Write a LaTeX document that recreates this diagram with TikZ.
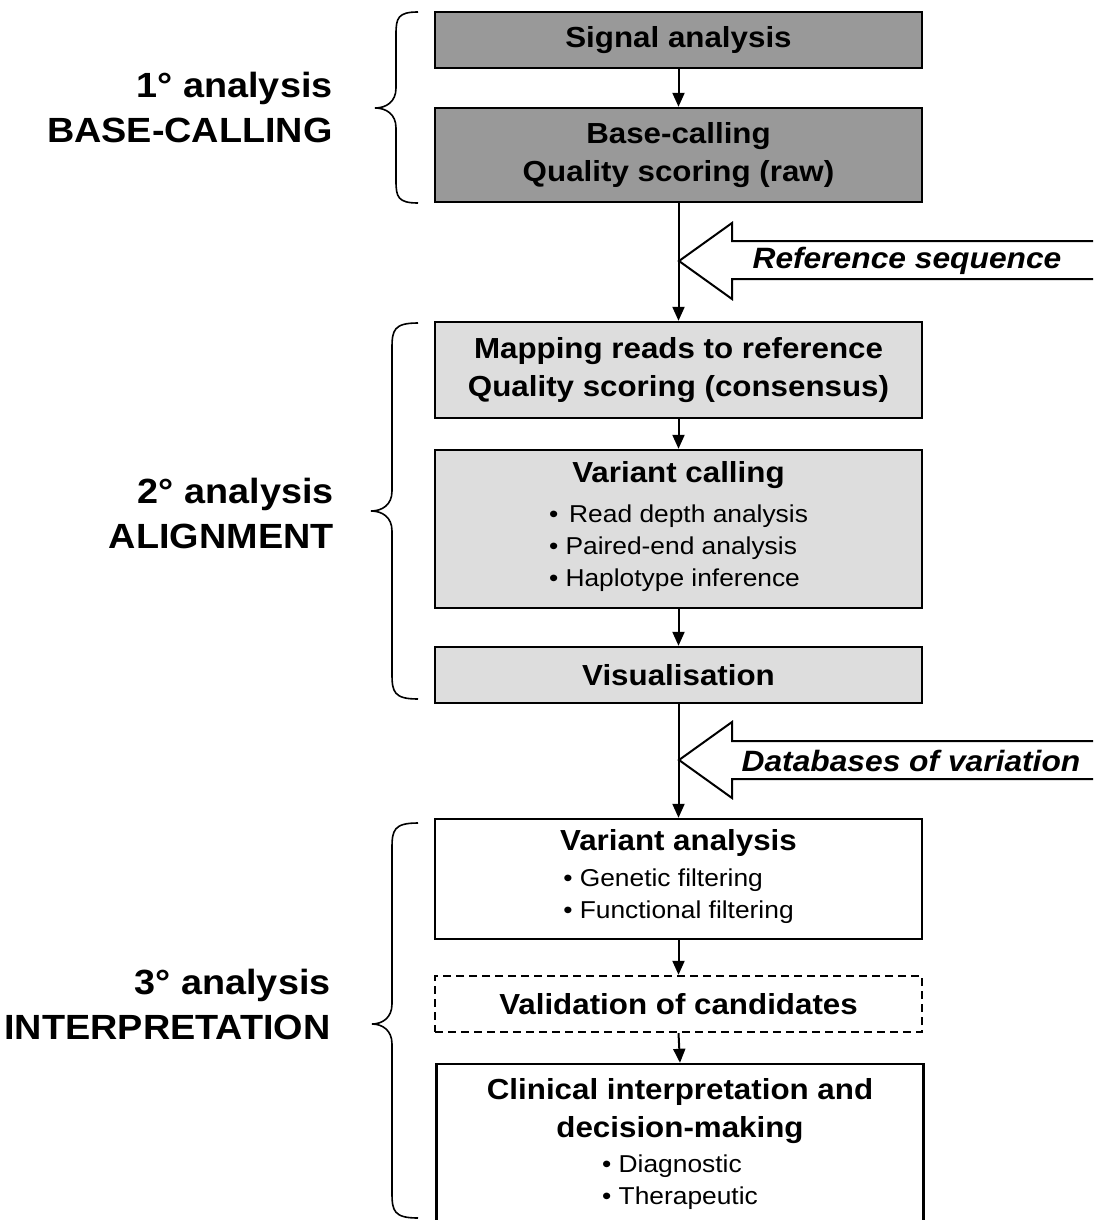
\documentclass[tikz,border=0pt]{standalone}
\usepackage{fontspec}
\setmainfont{Liberation Sans}[FakeStretch=1.08]
\usetikzlibrary{arrows.meta}
\definecolor{darkbox}{HTML}{999999}
\definecolor{lightbox}{HTML}{DDDDDD}
\newcommand\ttlfont{\fontsize{14.5}{19}\selectfont\bfseries}
\newcommand\bulfont{\fontsize{12.2}{16}\selectfont\mdseries}
\begin{document}
\begin{tikzpicture}[x=0.5pt,y=-0.5pt,
  box/.style={draw=black, line width=1.2pt, minimum width=243.5pt, inner sep=0pt, align=center, font=\ttlfont},
  dark/.style={box, fill=darkbox},
  light/.style={box, fill=lightbox},
  plain/.style={box, fill=white},
  dashbox/.style={box, fill=white, dash pattern=on 4pt off 2.5pt},
  arr/.style={line width=1pt, -{Triangle[length=7pt,width=6pt]}},
  hollow/.style={line width=1pt, fill=white},
  brc/.style={line width=0.8pt},
  lbl/.style={font=\fontsize{17.5}{22.5}\selectfont\bfseries, align=right, anchor=east, inner sep=0pt},
  reftext/.style={font=\fontsize{14.7}{18}\selectfont\bfseries\itshape, inner sep=0pt}]
\clip (0,0) rectangle (1093,1220);
\fill[white] (0,0) rectangle (1093,1220);

% hollow input arrows
\draw[hollow] (1110,241) -- (732,241) -- (732,223) -- (679,261) -- (732,299) -- (732,279) -- (1110,279);
\node[reftext] (refseq) at (907,261) {Reference sequence};
\draw[hollow] (1110,741) -- (732,741) -- (732,722) -- (679,760) -- (732,798) -- (732,779) -- (1110,779);
\node[reftext] (dbvar) at (911,761) {Databases of variation};

% boxes
\node[dark, minimum height=28pt] (b1) at (678.5,40) {Signal analysis};
\node[dark, minimum height=47pt] (b2) at (678.5,155) {Base-calling\\Quality scoring (raw)};
\node[light, minimum height=48pt] (b3) at (678.5,370) {Mapping reads to reference\\Quality scoring (consensus)};
\node[light, minimum height=79pt] (b4) at (678.5,529) {Variant calling\\[1pt]{\bulfont\begin{tabular}[t]{@{}l@{}}•\hspace{0.45em}Read depth analysis\\• Paired-end analysis\\• Haplotype inference\end{tabular}}};
\node[light, minimum height=28pt] (b5) at (678.5,675) {Visualisation};
\node[plain, minimum height=60pt] (b6) at (678.5,879) {Variant analysis\\[-1pt]{\bulfont\begin{tabular}[t]{@{}l@{}}• Genetic filtering\\• Functional filtering\end{tabular}}};
\node[dashbox, minimum height=28pt] (b7) at (678.5,1004) {Validation of candidates};
\node[plain, minimum height=82pt] (b8) at (680,1146) {Clinical interpretation and\\decision-making\\[-1.5pt]{\bulfont\begin{tabular}[t]{@{}l@{}}• Diagnostic\\• Therapeutic\end{tabular}}};

% connectors
\draw[arr] (b1) -- (b2);
\draw[arr] (b2) -- (b3);
\draw[arr] (b3) -- (b4);
\draw[arr] (b4) -- (b5);
\draw[arr] (b5) -- (b6);
\draw[arr] (b6) -- (b7);
\draw[arr] (b7.south) -- (b8.north);

% braces
\draw[brc] (418,12) .. controls (398,12) and (396,18) .. (396,34) -- (396,88)
  .. controls (396,102) and (386,108) .. (375,108)
  .. controls (386,108) and (396,114) .. (396,128) -- (396,181)
  .. controls (396,197) and (398,203) .. (418,203);
\draw[brc] (418,323) .. controls (394,323) and (392,330) .. (392,348) -- (392,491)
  .. controls (392,505) and (382,511) .. (371,511)
  .. controls (382,511) and (392,517) .. (392,531) -- (392,674)
  .. controls (392,692) and (394,699) .. (418,699);
\draw[brc] (418,823) .. controls (394,823) and (392,830) .. (392,848) -- (392,1004)
  .. controls (392,1018) and (382,1024) .. (372,1024)
  .. controls (382,1024) and (392,1030) .. (392,1044) -- (392,1193)
  .. controls (392,1211) and (394,1218) .. (418,1218);

% stage labels
\node[lbl] (l1) at (333,107) {1° analysis\\BASE-CALLING};
\node[lbl] (l2) at (334,513) {2° analysis\\ALIGNMENT};
\node[lbl] (l3) at (331,1004) {3° analysis\\INTERPRETATION};
\end{tikzpicture}
\end{document}
